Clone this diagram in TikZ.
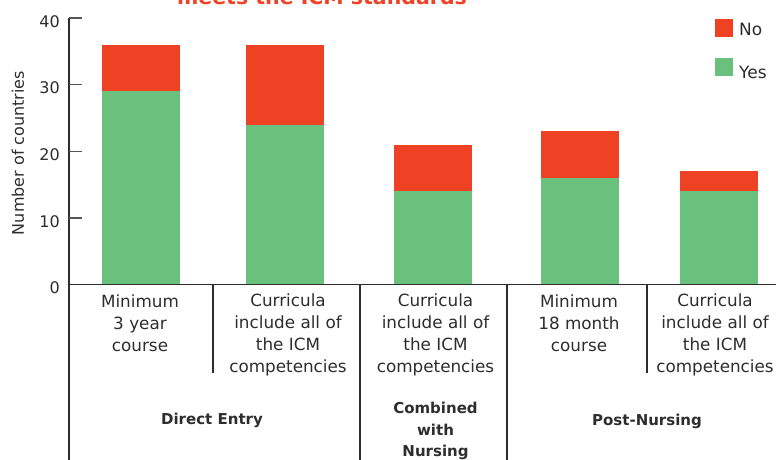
\documentclass[tikz,border=0pt]{standalone}
\usepackage{fontspec}
\setmainfont{DejaVu Sans}
\usetikzlibrary{positioning}
\definecolor{nored}{RGB}{239,65,36}
\definecolor{yesgreen}{RGB}{106,193,126}
\definecolor{inkgray}{RGB}{45,45,45}
\tikzset{
x=1pt, y=-1pt, % pixel grid, origin top left
axisline/.style={draw=inkgray, line width=1.2pt},
tickline/.style={draw=inkgray!80, line width=1.2pt},
ticklabel/.style={anchor=east, inner sep=0pt, text=inkgray, font=\fontsize{16}{18}\selectfont},
catlabel/.style={anchor=north, inner sep=0pt, align=center, text=inkgray, font=\fontsize{16.8}{21.8}\selectfont},
grouplabel/.style={inner sep=0pt, align=center, text=inkgray, font=\bfseries\fontsize{15}{21.5}\selectfont},
keybox/.style={minimum size=18pt, inner sep=0pt},
keytext/.style={anchor=base west, inner sep=0pt, text=inkgray, font=\fontsize{17}{20}\selectfont},
}

\begin{document}
\begin{tikzpicture}
  \useasboundingbox (0,0) rectangle (776,460);
  % title, cut by the top edge
  \node[anchor=base, text=nored, font=\bfseries\fontsize{20.5}{24}\selectfont] (title) at (322,5) {meets the ICM standards};
  % bars: centre / yes / total
  \foreach \cx/\yes/\all in {141/29/36, 285/24/36, 433/14/21, 580/16/23, 719/14/17} {
    \fill[yesgreen] ({\cx-39},284.5) rectangle ({\cx+39},{284.5-6.66*\yes});
    \fill[nored] ({\cx-39},{284.5-6.66*\yes}) rectangle ({\cx+39},{284.5-6.66*\all});
  }
  % axes
  \draw[axisline] (69,18) coordinate (ytop) -- (69,460) coordinate (ybot);
  \draw[axisline] (69,284.5) coordinate (origin) -- (776,284.5) coordinate (xend);
  \foreach \v/\ty in {40/18, 30/84.6, 20/151.2, 10/217.9} {
    \draw[tickline] (69,\ty) -- (82,\ty);
    \node[ticklabel] (tick\v) at (60,\ty+3.5) {\v};
  }
  \node[ticklabel] (tick0) at (60,288) {0};
  \node[rotate=90, text=inkgray, font=\fontsize{16}{18}\selectfont] (ylabel) at (18,153) {Number of countries};
  % separators below the axis
  \draw[axisline] (213,284.5) -- (213,372.5);
  \draw[axisline] (360,284.5) -- (360,460);
  \draw[axisline] (507,284.5) -- (507,460);
  \draw[axisline] (647,284.5) -- (647,372.5);
  % category labels
  \node[catlabel] (minthree) at (140,294.5) {Minimum\\3 year\\course};
  \node[catlabel] (curdirect) at (288,294) {Curricula\\include all of\\the ICM\\competencies};
  \node[catlabel] (curcomb) at (435.5,294) {Curricula\\include all of\\the ICM\\competencies};
  \node[catlabel] (mineighteen) at (579,294.5) {Minimum\\18 month\\course};
  \node[catlabel] (curpost) at (715,294) {Curricula\\include all of\\the ICM\\competencies};
  % groups
  \node[grouplabel] (direct) at (212,420) {Direct Entry};
  \node[grouplabel] (combined) at (435.5,431) {Combined\\with\\Nursing};
  \node[grouplabel] (post) at (647,421) {Post-Nursing};
  % legend
  \node[keybox, fill=nored] (nokey) at (724,28) {};
  \node[keybox, fill=yesgreen] (yeskey) at (724,67) {};
  \node[keytext] (notext) at (739,36) {No};
  \node[keytext] (yestext) at (739,78) {Yes};
\end{tikzpicture}
\end{document}
